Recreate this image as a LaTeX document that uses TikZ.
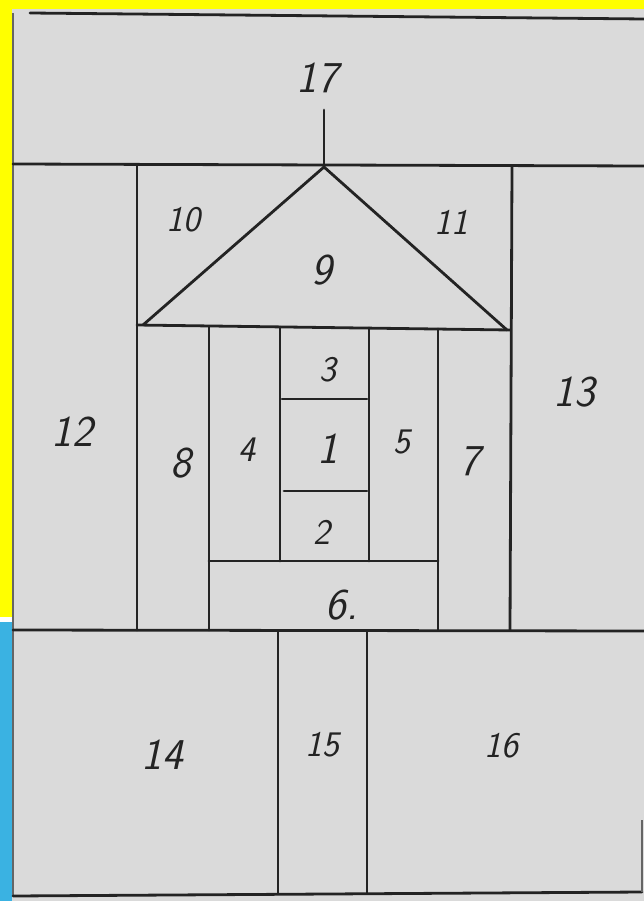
\documentclass[tikz,border=0pt]{standalone}
\definecolor{paper}{RGB}{218,218,218}
\definecolor{ink}{RGB}{35,35,35}
\definecolor{stripY}{RGB}{255,255,0}
\definecolor{stripB}{RGB}{58,178,226}
\begin{document}
\begin{tikzpicture}[x=1pt,y=-1pt,
  seam/.style={draw=ink,line width=2.8pt,line cap=round},
  faint/.style={draw=ink!70,line width=1.4pt},
  num/.style={text=ink,font=\fontsize{36}{38}\selectfont\sffamily\itshape,inner sep=0pt},
  bignum/.style={num,font=\fontsize{44}{46}\selectfont\sffamily\itshape}]
\useasboundingbox (0,0) rectangle (644,901);
% background
\fill[white] (0,0) rectangle (644,901);
\fill[paper] (12,9) rectangle (644,901);
\fill[stripY] (0,0) rectangle (644,9);
\fill[stripY] (0,0) rectangle (12,617);
\fill[stripB] (0,622) rectangle (12,901);
% outer frame
\draw[faint] (13,13) -- (13,896);
\draw[seam] (30,13) -- (644,19);
\draw[seam] (13,896) -- (642,892);
\draw[faint] (642,820) -- (642,892);
% main horizontals
\coordinate (peak) at (324,167);
\draw[seam] (13,164) -- (644,166);
\draw[seam] (324,110) -- (peak);
\draw[seam] (13,630) -- (644,631);
% roof block
\draw[seam] (137,165) -- (137,630);
\draw[seam] (512,166) -- (510,630);
\draw[seam] (137,325) -- (510,330);
\draw[seam] (143,325) -- (peak) -- (507,330);
% house
\draw[seam] (209,327) -- (209,630);
\draw[seam] (280,327) -- (280,561);
\draw[seam] (369,328) -- (369,561);
\draw[seam] (438,329) -- (438,630);
\draw[seam] (282,399) -- (367,399);
\draw[seam] (284,491) -- (367,491);
\draw[seam] (209,561) -- (438,561);
% bottom verticals
\draw[seam] (278,631) -- (278,893);
\draw[seam] (367,631) -- (367,893);
% labels
\node[bignum] (n17) at (317,78) {17};
\node[num] (n10) at (183,220) {10};
\node[num] (n11) at (451,222) {11};
\node[bignum] (n9) at (322,270) {9};
\node[num] (n3) at (328,370) {3};
\node[bignum] (n1) at (328,449) {1};
\node[num] (n2) at (322,532) {2};
\node[num] (n4) at (247,450) {4};
\node[num] (n5) at (402,442) {5};
\node[bignum] (n6) at (342,605) {6.};
\node[bignum] (n8) at (181,463) {8};
\node[bignum] (n7) at (470,461) {7};
\node[bignum] (n12) at (72,432) {12};
\node[bignum] (n13) at (574,392) {13};
\node[bignum] (n14) at (162,755) {14};
\node[num] (n15) at (322,745) {15};
\node[num] (n16) at (501,746) {16};
\end{tikzpicture}
\end{document}
